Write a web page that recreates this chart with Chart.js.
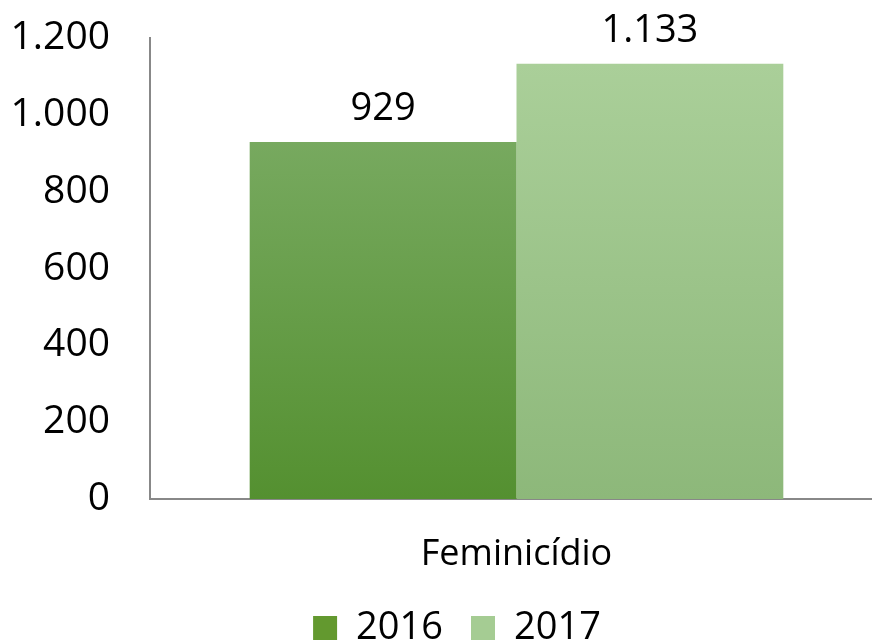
<!DOCTYPE html>
<html>
<head>
<meta charset="utf-8">
<script src="https://cdn.jsdelivr.net/npm/chart.js@4"></script>
<style>
  body { margin: 0; background: #fff; }
  #wrap { width: 872px; height: 640px; }
</style>
</head>
<body>
<div id="wrap"><canvas id="myChart"></canvas></div>
<script>
// data
let categories = ["Feminicídio"];
let years = ["2016", "2017"];
let values2016 = [929];
let values2017 = [1133];
let yTicks = [0, 200, 400, 600, 800, 1000, 1200];

let fmt = (v) => v.toLocaleString("pt-BR");

// gradient per bar, from top of the bar down to the base
function barGradient(top, bottom) {
  return function (ctx) {
    let chart = ctx.chart;
    if (!chart.chartArea || !chart.scales.y) return top;
    let y = chart.scales.y;
    let v = ctx.raw != null ? ctx.raw : 0;
    let g = chart.ctx.createLinearGradient(0, y.getPixelForValue(v), 0, y.getPixelForValue(0));
    g.addColorStop(0, top);
    g.addColorStop(1, bottom);
    return g;
  };
}

// plot area runs past the right edge of the canvas, legend sits a bit right of centre
let shiftLayout = {
  id: "shiftLayout",
  afterLayout(chart) {
    let x = chart.scales.x;
    x.right = 883;
    x.width = x.right - x.left;
    x.configure();
    chart.legend.left += 21;
    chart.legend.right += 21;
  },
};

// draw the value above every bar
let valueLabels = {
  id: "valueLabels",
  afterDatasetsDraw(chart) {
    let c = chart.ctx;
    c.save();
    c.font = "38px 'Open Sans'";
    c.fillStyle = "#000";
    c.textAlign = "center";
    c.textBaseline = "bottom";
    chart.data.datasets.forEach((ds, i) => {
      chart.getDatasetMeta(i).data.forEach((bar, j) => {
        c.fillText(fmt(ds.data[j]), bar.x, bar.y - 14);
      });
    });
    c.restore();
  },
};

let mychart = document.getElementById("myChart").getContext("2d");
let barChart = new Chart(mychart, {
  type: "bar",
  data: {
    labels: categories,
    datasets: [
      {
        label: years[0],
        data: values2016,
        backgroundColor: barGradient("#77a95f", "#549030"),
        legendColor: "#63992f",
      },
      {
        label: years[1],
        data: values2017,
        backgroundColor: barGradient("#aacf99", "#8db87a"),
        legendColor: "#a5cc93",
      },
    ],
  },
  options: {
    responsive: true,
    maintainAspectRatio: false,
    animation: false,
    layout: { padding: { top: 0, right: 0, left: 0, bottom: -17 } },
    datasets: {
      bar: { categoryPercentage: 0.728, barPercentage: 1 },
    },
    scales: {
      x: {
        grid: { display: false, drawTicks: false },
        border: { color: "#888888", width: 2 },
        ticks: {
          font: { family: "Open Sans", size: 36, lineHeight: 1.1 },
          color: "#000",
          padding: 36,
        },
        afterFit: (axis) => {
          axis.height = 82;
          axis.paddingLeft = 0;
          axis.paddingRight = 0;
        },
      },
      y: {
        min: 0,
        max: 1200,
        afterBuildTicks: (axis) => {
          axis.ticks = yTicks.map((v) => ({ value: v }));
        },
        grid: { display: false, drawTicks: false },
        border: { color: "#888888", width: 2 },
        ticks: {
          font: { family: "Open Sans", size: 39, lineHeight: 1 },
          color: "#000",
          padding: 40,
          callback: (v) => fmt(v),
        },
        afterFit: (axis) => {
          axis.width = 150;
          axis.paddingTop = 38;
          axis.paddingBottom = 0;
        },
      },
    },
    plugins: {
      tooltip: { enabled: false },
      legend: {
        position: "bottom",
        labels: {
          boxWidth: 24,
          boxHeight: 24,
          padding: 28,
          color: "#000",
          font: { family: "Open Sans", size: 38, lineHeight: 1 },
          generateLabels: (chart) =>
            chart.data.datasets.map((ds, i) => ({
              text: ds.label,
              fillStyle: ds.legendColor,
              strokeStyle: ds.legendColor,
              lineWidth: 0,
              datasetIndex: i,
            })),
        },
      },
    },
  },
  plugins: [shiftLayout, valueLabels],
});
</script>
</body>
</html>
